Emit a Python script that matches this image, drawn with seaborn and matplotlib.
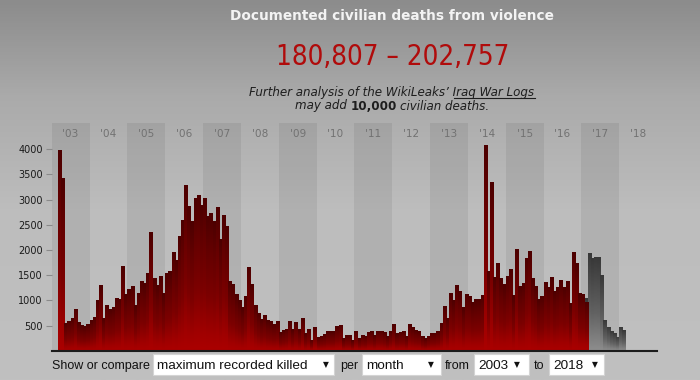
import numpy as np
import pandas as pd
import matplotlib
matplotlib.use("Agg")
import matplotlib.pyplot as plt
import seaborn as sns
from matplotlib.colors import LinearSegmentedColormap
from matplotlib.patches import Rectangle
from matplotlib.lines import Line2D
from matplotlib.transforms import blended_transform_factory
from matplotlib import font_manager as fm

# ---------------- data ----------------
year_labels = ["'03", "'04", "'05", "'06", "'07", "'08", "'09", "'10",
               "'11", "'12", "'13", "'14", "'15", "'16", "'17", "'18"]

deaths_2003 = [3, 2, 3977, 3438, 545, 597, 646, 833, 566, 515, 487, 524]
deaths_2004 = [610, 663, 1004, 1303, 655, 910, 834, 878, 1042, 1033, 1676, 1129]
deaths_2005 = [1222, 1297, 905, 1145, 1396, 1347, 1536, 2352, 1444, 1311, 1487, 1141]
deaths_2006 = [1546, 1579, 1957, 1805, 2279, 2594, 3298, 2865, 2567, 3041, 3095, 2900]
deaths_2007 = [3035, 2680, 2728, 2573, 2854, 2219, 2702, 2483, 1391, 1326, 1124, 1000]
deaths_2008 = [861, 1093, 1669, 1317, 915, 755, 640, 704, 612, 594, 540, 586]
deaths_2009 = [372, 409, 438, 590, 428, 564, 431, 653, 352, 441, 226, 478]
deaths_2010 = [267, 305, 336, 385, 387, 385, 488, 520, 254, 315, 307, 218]
deaths_2011 = [389, 254, 311, 289, 381, 386, 308, 401, 397, 366, 288, 392]
deaths_2012 = [531, 356, 377, 392, 304, 529, 469, 422, 400, 290, 253, 299]
deaths_2013 = [357, 360, 403, 545, 888, 659, 1145, 1013, 1306, 1180, 870, 1126]
deaths_2014 = [1097, 972, 1029, 1037, 1100, 4088, 1580, 3340, 1474, 1738, 1436, 1327]
deaths_2015 = [1490, 1625, 1105, 2013, 1295, 1355, 1840, 1991, 1445, 1297, 1021, 1096]
deaths_2016 = [1374, 1258, 1459, 1192, 1276, 1400, 1276, 1380, 944, 1970, 1740, 1140]
deaths_2017_recorded = [1135, 975]  # Jan-Feb 2017

# preliminary (grey) series: Feb 2017 - Feb 2018
preliminary = [1040, 1936, 1837, 1870, 1863, 1506, 613, 480, 395, 349, 282, 481, 415]

y_ticks = [500, 1000, 1500, 2000, 2500, 3000, 3500, 4000]

recorded = (deaths_2003 + deaths_2004 + deaths_2005 + deaths_2006 + deaths_2007 +
            deaths_2008 + deaths_2009 + deaths_2010 + deaths_2011 + deaths_2012 +
            deaths_2013 + deaths_2014 + deaths_2015 + deaths_2016 + deaths_2017_recorded)

df_red = pd.DataFrame({"month": np.arange(len(recorded)), "deaths": recorded})
start_prelim = len(recorded) - 1
df_grey = pd.DataFrame({"month": np.arange(start_prelim, start_prelim + len(preliminary)),
                        "deaths": preliminary})
n_months = 12 * len(year_labels)

# ---------------- figure ----------------
W, H = 700, 380
fig = plt.figure(figsize=(7, 3.8), dpi=100)

def P(x, y):
    return (x / W, 1 - y / H)

# background gradient
bg = fig.add_axes([0, 0, 1, 1], zorder=-5)
bg.imshow(np.linspace(1, 0, 200).reshape(-1, 1), aspect="auto",
          cmap=LinearSegmentedColormap.from_list("bg2", [(0, "#c0c0c0"), (0.45, "#bdbdbd"),
                                                         (0.75, "#aaaaaa"), (1, "#8c8c8c")]),
          extent=(0, 1, 0, 1), origin="upper", vmin=0, vmax=1)
bg.set_axis_off()

left, right = 51.7, 657.1
top, base = 123.0, 350.9
ax = fig.add_axes([left / W, (H - base) / H, (right - left) / W, (base - top) / H])
ax.patch.set_alpha(0)

sns.barplot(data=df_grey, x="month", y="deaths", native_scale=True, width=1,
            color="#555555", ax=ax, errorbar=None)
grey_patches = list(ax.patches)
sns.barplot(data=df_red, x="month", y="deaths", native_scale=True, width=1,
            color="#8b0000", ax=ax, errorbar=None)
red_patches = [p for p in ax.patches if p not in grey_patches]

red_cm = LinearSegmentedColormap.from_list(
    "r", [(0, "#ab0000"), (0.12, "#a00000"), (0.4, "#7c0000"), (0.75, "#620000"), (1, "#4c0000")])
grey_cm = LinearSegmentedColormap.from_list(
    "g", [(0, "#8e8e8e"), (0.4, "#626262"), (1, "#383838")])
grad = np.linspace(0, 1, 128).reshape(-1, 1)
for patches, cm, z in [(grey_patches, grey_cm, 2), (red_patches, red_cm, 3)]:
    for p in patches:
        x0, w, h = p.get_x(), p.get_width(), p.get_height()
        if h <= 0:
            continue
        im = ax.imshow(grad, cmap=cm, vmin=0, vmax=1, extent=(x0, x0 + w, 0, h),
                       origin="lower", aspect="auto", interpolation="bilinear", zorder=z)
        im.set_clip_path(p)
        p.set_facecolor("none")
        p.set_edgecolor("none")

# year bands (alternate years shaded)
for k in range(len(year_labels)):
    if k % 2 == 0:
        ax.axvspan(12 * k - 0.5, 12 * k + 11.5, color="black", alpha=0.065, lw=0, zorder=0)

ax.set_xlim(-0.5, n_months - 0.5)
ax.set_ylim(0, 4520)
ax.set_xticks([])
ax.set_yticks(y_ticks)
ax.set_yticklabels([str(v) for v in y_ticks])
ax.tick_params(axis="y", length=4, width=0.8, color="#8a8a8a", pad=2.4,
               labelsize=7, labelcolor="#1a1a1a")
ax.set_xlabel("")
ax.set_ylabel("")
for s in ["left", "top", "right"]:
    ax.spines[s].set_visible(False)
ax.spines["bottom"].set_color("#1c1c1c")
ax.spines["bottom"].set_linewidth(1.5)
ax.spines["bottom"].set_zorder(6)

tr = blended_transform_factory(ax.transData, ax.transAxes)
for k, lab in enumerate(year_labels):
    ax.text(12 * k + 5.5, 0.951, lab, transform=tr, ha="center", va="center",
            fontsize=7.6, color="#727272")

# ---------------- texts ----------------
fig.canvas.draw()
R = fig.canvas.get_renderer()

def width(t):
    return t.get_window_extent(R).width

def fit(t, target):
    t.set_fontsize(t.get_fontsize() * target / width(t))

def narrow_font():
    for f in fm.fontManager.ttflist:
        if f.name == "Liberation Sans Narrow" and f.weight in (400, "normal") and f.style == "normal":
            return fm.FontProperties(fname=f.fname)
    for f in fm.fontManager.ttflist:
        fn = f.fname.lower()
        if ("narrow" in fn or "condensed" in fn) and "sans" in fn and "bold" not in fn \
                and "oblique" not in fn and "italic" not in fn and "mono" not in fn:
            return fm.FontProperties(fname=f.fname)
    return None

t = fig.text(*P(392, 20.5), "Documented civilian deaths from violence", ha="center",
             va="baseline", fontsize=9.5, fontweight="bold", color="#f3f3f3",
             family="DejaVu Sans")
fit(t, 325)

nf = narrow_font()
if nf is not None:
    t = fig.text(*P(392.5, 65), "180,807 \u2013 202,757", ha="center", va="baseline",
                 fontproperties=nf, color="#b00b0b")
    t.set_fontsize(20)
    fit(t, 233)
else:
    t = fig.text(*P(392.5, 65), "180,807 \u2013 202,757", ha="center", va="baseline",
                 fontsize=20, color="#b00b0b", family="Liberation Sans")
    fit(t, 252)

# subtitle line 1 with underlined link
l1 = fig.text(*P(392, 96), "Further analysis of the WikiLeaks\u2019 Iraq War Logs",
              ha="center", va="baseline", fontsize=7.5, style="italic", color="#1e1e1e",
              family="DejaVu Sans")
fit(l1, 286)
fs1 = l1.get_fontsize()
probe = fig.text(0, 0, "Iraq War Logs", fontsize=fs1, style="italic", family="DejaVu Sans")
wl = width(probe)
probe.remove()
x_end = 392 + 143
fig.add_artist(Line2D([(x_end - wl) / W, x_end / W], [1 - 97.8 / H] * 2,
                      color="#1e1e1e", lw=0.8, transform=fig.transFigure))

# subtitle line 2 with bold number
parts = [("may add", dict(style="italic")), ("10,000", dict(fontweight="bold")),
         ("civilian deaths.", dict(style="italic"))]
texts = [fig.text(0, 0, s, fontsize=fs1, color="#1e1e1e", family="DejaVu Sans",
                  va="baseline", ha="left", **kw) for s, kw in parts]
a1 = fig.text(0, 0, "a a", fontsize=fs1, style="italic", family="DejaVu Sans")
a2 = fig.text(0, 0, "aa", fontsize=fs1, style="italic", family="DejaVu Sans")
sp = width(a1) - width(a2)
a1.remove(); a2.remove()
ws = [width(tt) for tt in texts]
total = sum(ws) + 2 * sp
x = 392 - total / 2
for tt, w_ in zip(texts, ws):
    tt.set_position(P(x, 109.5))
    x += w_ + sp

# ---------------- bottom controls ----------------
ctl_font = ["Liberation Sans", "DejaVu Sans"]
t = fig.text(*P(52, 366), "Show or compare", ha="left", va="center", fontsize=9.4,
             color="#111111", family=ctl_font)
fit(t, 97)
cfs = t.get_fontsize()

boxes = [(153, 334, "maximum recorded killed", 325.5),
         (362, 441, "month", 431),
         (474, 529, "2003", 516.5),
         (549, 604, "2018", 594.5)]
for x0, x1, label, arrow_x in boxes:
    fig.add_artist(Rectangle(P(x0, 375), (x1 - x0) / W, 21 / H, transform=fig.transFigure,
                             facecolor="white", edgecolor="#d4d4d4", lw=0.8, zorder=1))
    fig.text(*P(x0 + 4, 366), label, ha="left", va="center", fontsize=cfs * 1.08,
             color="#111111", family=ctl_font, zorder=2)
    fig.text(*P(arrow_x, 365), "\u25bc", ha="center", va="center", fontsize=5.5,
             color="#111111", family="DejaVu Sans", zorder=2)

for x0, label in [(340, "per"), (445, "from"), (534, "to")]:
    fig.text(*P(x0, 366), label, ha="left", va="center", fontsize=cfs,
             color="#111111", family=ctl_font)

fig.savefig("out.png", dpi=100)
